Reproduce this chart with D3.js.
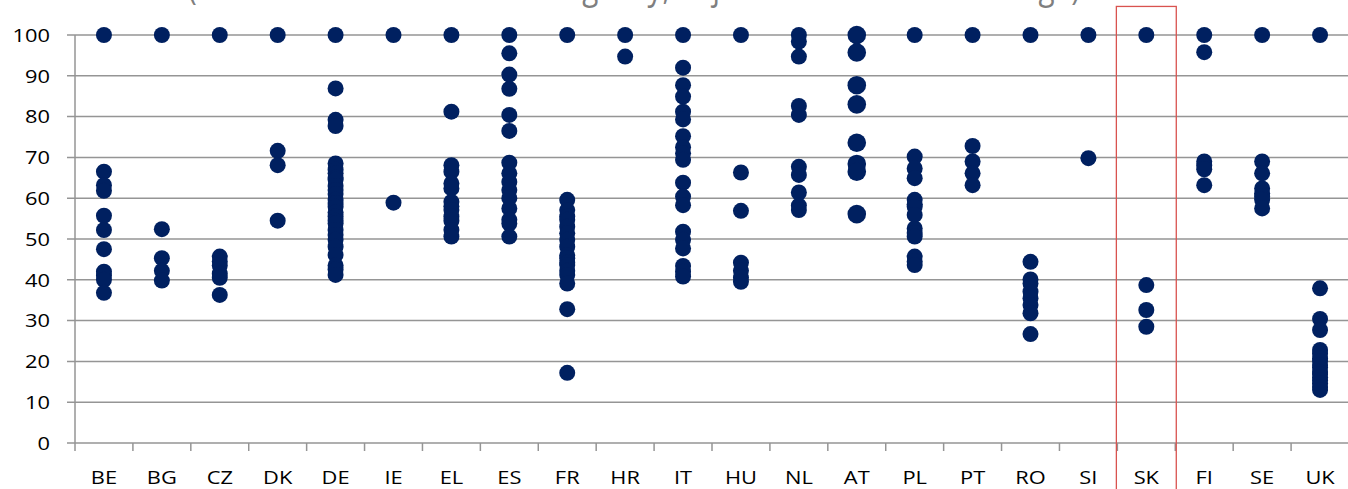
<!DOCTYPE html>
<html>
<head>
<meta charset="utf-8">
<script src="https://cdn.jsdelivr.net/npm/d3@7"></script>
<style>
  html, body { margin: 0; padding: 0; background: #fff; overflow: hidden; }
  text { font-family: 'Open Sans', 'Noto Sans', sans-serif; }
</style>
</head>
<body>
<svg id="chart" width="1348" height="489"></svg>
<script>
// country categories along the x axis
const categories = ['BE', 'BG', 'CZ', 'DK', 'DE', 'IE', 'EL', 'ES', 'FR', 'HR', 'IT',
  'HU', 'NL', 'AT', 'PL', 'PT', 'RO', 'SI', 'SK', 'FI', 'SE', 'UK']

const yTicks = [0, 10, 20, 30, 40, 50, 60, 70, 80, 90, 100]

// values read per country
const BE = [100, 66.5, 63.2, 61.8, 55.7, 52.2, 47.5, 42, 41, 40, 36.8]
const BG = [100, 52.4, 45.3, 42.2, 39.8]
const CZ = [100, 45.7, 44.5, 43.5, 41.5, 40.5, 36.3]
const DK = [100, 71.6, 68.1, 54.5]
const DE = [100, 86.9, 79.2, 77.7, 68.5, 67, 66.1, 65, 64.5, 63, 62, 61, 59.6, 58.8,
  57.9, 56.5, 55.5, 54.5, 53.8, 52.2, 51, 49.8, 48.1, 46.1, 43.5, 42.5, 41.2]
const IE = [100, 58.9]
const EL = [100, 81.2, 68.1, 66.5, 63.6, 62.4, 59.1, 58, 57.1, 55.5, 54.5, 52.2, 50.6]
const ES = [100, 95.5, 90.3, 86.8, 80.4, 76.5, 68.7, 66.1, 64, 62, 60, 57.5, 54.7, 53.8, 50.6]
const FR = [100, 59.6, 57.1, 55.5, 54.7, 53, 51.4, 49.8, 48.1, 46, 45.3, 44.2, 43.6,
  42.2, 41.2, 39.1, 32.8, 17.2]
const HR = [100, 94.7]
const IT = [100, 92, 87.7, 84.9, 81.2, 79.3, 75.2, 72.5, 71, 69.4, 63.8, 60.4, 58.3,
  51.8, 49.8, 47.7, 43.4, 42, 40.8]
const HU = [100, 66.3, 56.9, 44.2, 42.2, 40.5, 39.5]
const NL = [100, 98.4, 94.7, 82.6, 80.4, 67.7, 65.7, 61.4, 58.2, 57.1]
const AT = [100, 95.7, 87.7, 83, 73.6, 68.4, 66.5, 56.1]
const PL = [100, 70.2, 67.3, 64.9, 59.6, 58.5, 57.9, 55.9, 52.6, 51.5, 50.6, 45.7, 44.5, 43.6]
const PT = [100, 72.8, 69, 66.1, 63.2]
const RO = [100, 44.4, 40.1, 39.1, 37.1, 35.5, 33.8, 31.8, 26.7]
const SI = [100, 69.8]
const SK = [100, 38.7, 32.6, 28.5]
const FI = [100, 95.8, 69, 68, 67.1, 63.2]
const SE = [100, 69, 66.1, 62.4, 61.2, 60.4, 59.6, 57.5]
const UK = [100, 37.9, 30.4, 27.7, 22.8, 21.9, 20.7, 20.1, 19.1, 18.5, 17.4, 16.9,
  16.1, 15.3, 14.6, 13.7, 13]

const seriesByCountry = { BE, BG, CZ, DK, DE, IE, EL, ES, FR, HR, IT, HU, NL, AT, PL, PT, RO, SI, SK, FI, SE, UK }

const highlighted = 'SK'
const bigMarkers = ['AT']

const TITLE = '(Share of total staff in each agency, adjusted to national average)'

const width = 1348
const height = 489
const margin = { top: 35, right: -1, bottom: 46, left: 75 }
const dotColor = '#002060'
const gridColor = '#959595'
const textStretch = 1.15

let svg = d3.select('#chart')

let x = d3.scaleBand()
  .domain(categories)
  .range([margin.left, width - margin.right])

let y = d3.scaleLinear()
  .domain([0, 100])
  .range([height - margin.bottom, margin.top])

// Gridlines + y tick marks
svg.append('g')
  .selectAll('line')
  .data(yTicks)
  .enter()
  .append('line')
  .attr('x1', margin.left - 8)
  .attr('x2', width)
  .attr('y1', d => y(d))
  .attr('y2', d => y(d))
  .attr('stroke', gridColor)
  .attr('stroke-width', 1.5)

// Y labels
svg.append('g')
  .selectAll('text')
  .data(yTicks)
  .enter()
  .append('text')
  .attr('transform', d => `translate(50, ${y(d)}) scale(${textStretch}, 1)`)
  .attr('dy', '0.36em')
  .attr('text-anchor', 'end')
  .style('font-size', '19px')
  .style('fill', '#000')
  .text(d => d)

// Left axis line
svg.append('line')
  .attr('x1', margin.left)
  .attr('x2', margin.left)
  .attr('y1', y(100))
  .attr('y2', y(0) + 8)
  .attr('stroke', gridColor)
  .attr('stroke-width', 1.5)

// X tick marks at category boundaries
svg.append('g')
  .selectAll('line')
  .data(categories.slice(1))
  .enter()
  .append('line')
  .attr('x1', d => x(d))
  .attr('x2', d => x(d))
  .attr('y1', y(0))
  .attr('y2', y(0) + 8)
  .attr('stroke', gridColor)
  .attr('stroke-width', 1.5)

// X labels
svg.append('g')
  .selectAll('text')
  .data(categories)
  .enter()
  .append('text')
  .attr('transform', d => `translate(${x(d) + x.bandwidth() / 2}, 484) scale(${textStretch}, 1)`)
  .attr('text-anchor', 'middle')
  .style('font-size', '19px')
  .style('fill', '#000')
  .text(d => d)

// Dots
let points = []
categories.forEach(c => {
  seriesByCountry[c].forEach(v => points.push({ country: c, value: v }))
})

svg.append('g')
  .selectAll('circle')
  .data(points)
  .enter()
  .append('circle')
  .attr('cx', d => x(d.country) + x.bandwidth() / 2)
  .attr('cy', d => y(d.value))
  .attr('r', d => bigMarkers.includes(d.country) ? 9.3 : 8)
  .attr('fill', dotColor)

// Highlight box round SK
svg.append('rect')
  .attr('x', x(highlighted) - 1)
  .attr('y', y(107))
  .attr('width', x.bandwidth() + 2)
  .attr('height', height)
  .attr('fill', 'none')
  .attr('stroke', '#d9534f')
  .attr('stroke-width', 1.3)

// Title (cut off at the top of the picture)
svg.append('text')
  .attr('x', 188)
  .attr('y', -1)
  .attr('textLength', 892)
  .attr('lengthAdjust', 'spacingAndGlyphs')
  .style('font-size', '36px')
  .style('fill', '#7f7f7f')
  .text(TITLE)
</script>
</body>
</html>
